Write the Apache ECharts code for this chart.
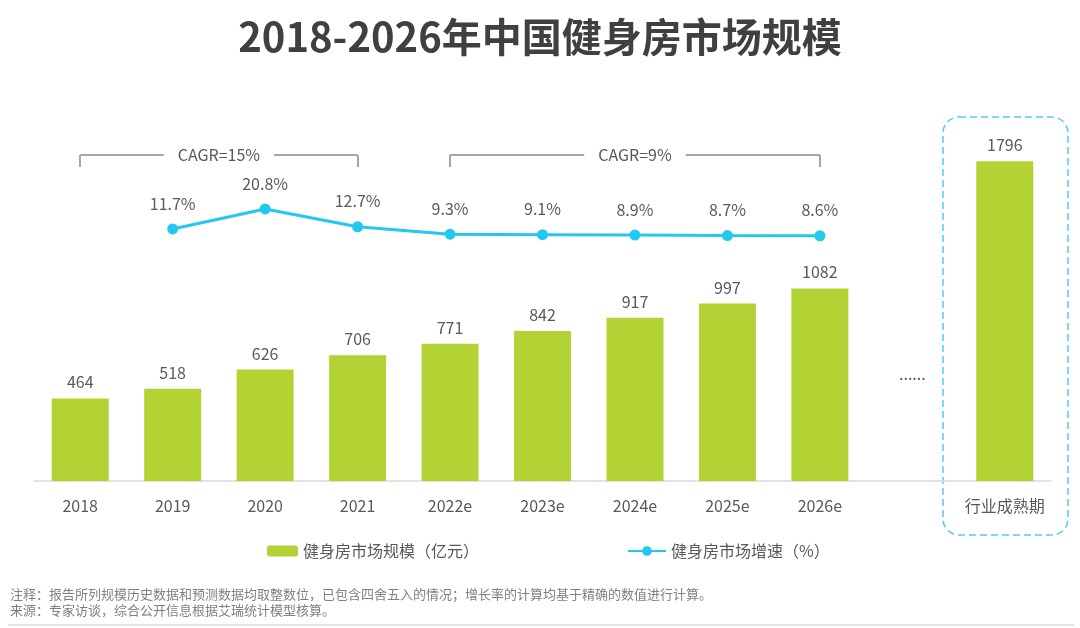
<!DOCTYPE html>
<html>
<head>
<meta charset="utf-8">
<script src="https://cdn.jsdelivr.net/npm/echarts@6/dist/echarts.min.js"></script>
<style>
  html, body { margin: 0; padding: 0; background: #ffffff; }
  #chart { width: 1080px; height: 628px; }
</style>
</head>
<body>
<div id="chart"></div>
<script>
const categories = ['2018', '2019', '2020', '2021', '2022e', '2023e', '2024e', '2025e', '2026e', '', '行业成熟期'];
const marketSize = [464, 518, 626, 706, 771, 842, 917, 997, 1082, '-', 1796];
const growthRate = ['-', 11.7, 20.8, 12.7, 9.3, 9.1, 8.9, 8.7, 8.6, '-', '-'];
const cagrLabels = ['CAGR=15%', 'CAGR=9%'];
const cagrSpans = [['2018', '2021'], ['2022e', '2026e']];
const titleText = '2018-2026年中国健身房市场规模';
const seriesNames = ['健身房市场规模（亿元）', '健身房市场增速（%）'];
const noteText = '注释：报告所列规模历史数据和预测数据均取整数位，已包含四舍五入的情况；增长率的计算均基于精确的数值进行计算。';
const sourceText = '来源：专家访谈，综合公开信息根据艾瑞统计模型核算。';

const FONT = '"Noto Sans CJK SC", "Noto Sans", sans-serif';
const TXT = '#595959';
const BAR_COLOR = '#b3d334';
const LINE_COLOR = '#22c8ef';

const bracketY = 1831, bracketTickY = 1764;
const markData = [];
cagrSpans.forEach((s, i) => {
  markData.push([
    { coord: [s[0], bracketY], label: { show: true, formatter: cagrLabels[i] } },
    { coord: [s[1], bracketY] }
  ]);
  markData.push([{ coord: [s[0], bracketY], label: { show: false } }, { coord: [s[0], bracketTickY] }]);
  markData.push([{ coord: [s[1], bracketY], label: { show: false } }, { coord: [s[1], bracketTickY] }]);
});

const chart = echarts.init(document.getElementById('chart'), null, { renderer: 'canvas' });
chart.setOption({
  animation: false,
  backgroundColor: '#ffffff',
  textStyle: { fontFamily: FONT },
  title: {
    text: titleText,
    left: 'center',
    top: 12,
    textStyle: { fontSize: 40, fontWeight: 'bold', color: '#404040', fontFamily: FONT }
  },
  legend: [
    {
      data: [seriesNames[0]],
      left: 262, top: 538,
      itemWidth: 31, itemHeight: 11,
      textStyle: { fontSize: 16, color: TXT, fontFamily: FONT }
    },
    {
      data: [seriesNames[1]],
      left: 622, top: 538,
      itemWidth: 38, itemHeight: 12,
      textStyle: { fontSize: 16, color: TXT, fontFamily: FONT }
    }
  ],
  grid: { left: 34, right: 29, top: 125, bottom: 147, containLabel: false },
  xAxis: {
    type: 'category',
    data: categories,
    axisLine: { lineStyle: { color: '#d9d9d9', width: 1.5 } },
    axisTick: { show: false },
    axisLabel: { fontSize: 16, color: TXT, margin: 17, fontFamily: FONT, interval: 0 }
  },
  yAxis: [
    { type: 'value', min: 0, max: 2000, show: false, splitLine: { show: false } },
    { type: 'value', min: -103, max: 59, show: false, splitLine: { show: false } }
  ],
  series: [
    {
      name: seriesNames[0],
      type: 'bar',
      data: marketSize,
      barWidth: 57,
      itemStyle: { color: BAR_COLOR },
      label: { show: true, position: 'top', distance: 8, fontSize: 16, color: TXT, fontFamily: FONT },
      markLine: {
        silent: true,
        symbol: ['none', 'none'],
        lineStyle: { color: '#a6a6a6', width: 2, type: 'solid' },
        label: {
          position: 'middle',
          distance: 0,
          verticalAlign: 'middle',
          fontSize: 16,
          color: TXT,
          backgroundColor: '#ffffff',
          padding: [2, 14],
          fontFamily: FONT
        },
        emphasis: { disabled: true },
        data: markData
      }
    },
    {
      name: seriesNames[1],
      type: 'line',
      yAxisIndex: 1,
      data: growthRate,
      symbol: 'circle',
      symbolSize: 11,
      lineStyle: { color: LINE_COLOR, width: 3 },
      itemStyle: { color: LINE_COLOR },
      label: {
        show: true, position: 'top', distance: 12, fontSize: 16, color: TXT, fontFamily: FONT,
        formatter: p => p.value + '%'
      }
    }
  ],
  graphic: [
    {
      type: 'text', left: 899, top: 366,
      style: { text: '......', fontSize: 16, fill: TXT, fontFamily: FONT }
    },
    {
      type: 'rect',
      shape: { x: 943, y: 117, width: 125, height: 418, r: 16 },
      style: { fill: 'none', stroke: '#4fcdf0', lineWidth: 1.5, lineDash: [7, 4] }
    },
    {
      type: 'text', left: 10, top: 588,
      style: { text: noteText, fontSize: 13, fill: '#808080', fontFamily: FONT }
    },
    {
      type: 'text', left: 10, top: 604,
      style: { text: sourceText, fontSize: 13, fill: '#808080', fontFamily: FONT }
    },
    {
      type: 'rect',
      shape: { x: 8, y: 624, width: 1066, height: 2 },
      style: { fill: '#e3e3e3' }
    }
  ]
});
</script>
</body>
</html>
